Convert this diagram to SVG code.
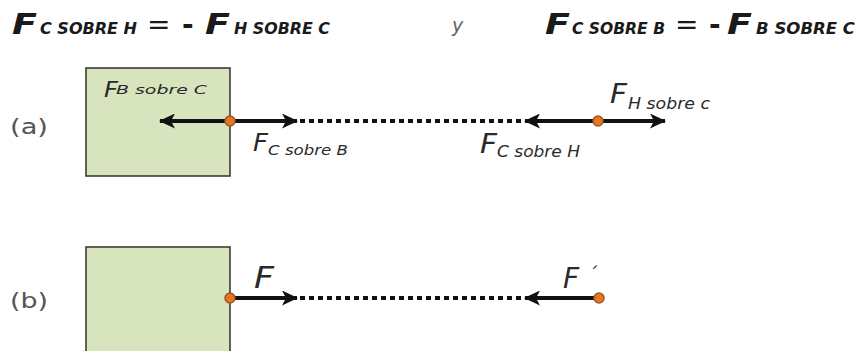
<svg xmlns="http://www.w3.org/2000/svg" width="867" height="351" viewBox="0 0 867 351">
<style>
.eq{font-family:"DejaVu Sans",Verdana,sans-serif;font-weight:bold;font-style:italic;fill:#1a1a1a}
.op{font-family:"DejaVu Sans",Verdana,sans-serif;fill:#1a1a1a}
.lbl{font-family:"DejaVu Sans",Verdana,sans-serif;font-style:italic;fill:#2a2a2a}
.tag{font-family:"DejaVu Sans",Verdana,sans-serif;fill:#555}
.box{fill:#d7e4bd;stroke:#3c3c30;stroke-width:1.6}
.force{stroke:#111;stroke-width:4;fill:none}
.dots{stroke:#111;stroke-width:4;stroke-dasharray:5 4;fill:none}
.pt{fill:#e0782c;stroke:#a9531a;stroke-width:1.5}
</style>
<defs>
<marker id="ah" markerUnits="userSpaceOnUse" markerWidth="17" markerHeight="15" refX="15" refY="7.5" orient="auto">
<path d="M0,0 L16,7.5 L0,15 L4,7.5 Z" fill="#111"/>
</marker>
</defs>
<rect width="867" height="351" fill="#fff"/>
<g id="equation">
<text class="eq" x="12" y="34" font-size="28" textLength="25" lengthAdjust="spacingAndGlyphs">F</text>
<text class="eq" x="40" y="34" font-size="16" textLength="97" lengthAdjust="spacingAndGlyphs">C SOBRE H</text>
<text class="op" x="147" y="34" font-size="28">=</text>
<text class="op" x="182" y="34" font-size="28" font-weight="bold">-</text>
<text class="eq" x="205" y="34" font-size="28" textLength="25" lengthAdjust="spacingAndGlyphs">F</text>
<text class="eq" x="234" y="34" font-size="16" textLength="96" lengthAdjust="spacingAndGlyphs">H SOBRE C</text>
<text class="lbl" x="452" y="32" font-size="19" style="fill:#666">y</text>
<text class="eq" x="545" y="34" font-size="28" textLength="25" lengthAdjust="spacingAndGlyphs">F</text>
<text class="eq" x="572" y="34" font-size="16" textLength="93" lengthAdjust="spacingAndGlyphs">C SOBRE B</text>
<text class="op" x="675" y="34" font-size="28">=</text>
<text class="op" x="709" y="34" font-size="28" font-weight="bold">-</text>
<text class="eq" x="727" y="34" font-size="28" textLength="25" lengthAdjust="spacingAndGlyphs">F</text>
<text class="eq" x="756" y="34" font-size="16" textLength="99" lengthAdjust="spacingAndGlyphs">B SOBRE C</text>
</g>
<g id="tag-a"><text class="tag" x="10" y="134" font-size="22" textLength="38" lengthAdjust="spacingAndGlyphs">(a)</text></g>
<g id="tag-b"><text class="tag" x="10" y="308" font-size="22" textLength="38" lengthAdjust="spacingAndGlyphs">(b)</text></g>
<g id="box-a"><rect class="box" x="86" y="68" width="144" height="108"/></g>
<g id="box-b"><rect class="box" x="86" y="247" width="144" height="112"/></g>
<g id="connectors">
<line class="dots" x1="300" y1="121" x2="523" y2="121"/>
<line class="dots" x1="300" y1="298" x2="523" y2="298"/>
<line class="force" x1="230" y1="121" x2="160" y2="121" marker-end="url(#ah)"/>
<line class="force" x1="230" y1="121" x2="297" y2="121" marker-end="url(#ah)"/>
<line class="force" x1="598" y1="121" x2="525" y2="121" marker-end="url(#ah)"/>
<line class="force" x1="598" y1="121" x2="665" y2="121" marker-end="url(#ah)"/>
<line class="force" x1="230" y1="298" x2="297" y2="298" marker-end="url(#ah)"/>
<line class="force" x1="599" y1="298" x2="525" y2="298" marker-end="url(#ah)"/>
</g>
<g id="points">
<circle class="pt" cx="230" cy="121" r="5"/>
<circle class="pt" cx="598" cy="121" r="5"/>
<circle class="pt" cx="230" cy="298" r="5"/>
<circle class="pt" cx="599" cy="298" r="5"/>
</g>
<g id="labels">
<text class="lbl" x="104" y="97" font-size="22" textLength="14" lengthAdjust="spacingAndGlyphs">F</text>
<text class="lbl" x="116" y="94" font-size="12" textLength="91" lengthAdjust="spacingAndGlyphs">B sobre C</text>
<text class="lbl" x="253" y="151" font-size="25" textLength="15" lengthAdjust="spacingAndGlyphs">F</text>
<text class="lbl" x="268" y="155" font-size="14" textLength="80" lengthAdjust="spacingAndGlyphs">C sobre B</text>
<text class="lbl" x="610" y="103" font-size="26" textLength="17" lengthAdjust="spacingAndGlyphs">F</text>
<text class="lbl" x="628" y="109" font-size="15" textLength="82" lengthAdjust="spacingAndGlyphs">H sobre c</text>
<text class="lbl" x="480" y="153" font-size="26" textLength="17" lengthAdjust="spacingAndGlyphs">F</text>
<text class="lbl" x="497" y="157" font-size="15" textLength="83" lengthAdjust="spacingAndGlyphs">C sobre H</text>
<text class="lbl" x="254" y="288" font-size="30" textLength="20" lengthAdjust="spacingAndGlyphs">F</text>
<text class="lbl" x="563" y="288" font-size="28">F<tspan x="588" y="280" font-size="18">´</tspan></text>
</g>
</svg>
